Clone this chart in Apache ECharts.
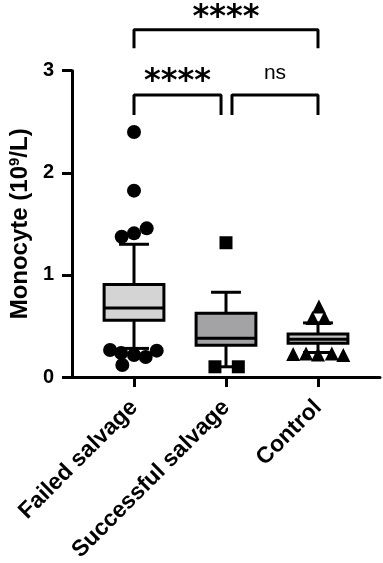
<!DOCTYPE html>
<html>
<head>
<meta charset="utf-8">
<script src="https://cdn.jsdelivr.net/npm/echarts@6/dist/echarts.min.js"></script>
<style>
  html, body { margin: 0; padding: 0; background: #fff; }
  #chart { width: 383px; height: 563px; }
</style>
</head>
<body>
<div id="chart"></div>
<script>
const categories = ['Failed salvage', 'Successful salvage', 'Control'];
// [group, lower whisker, Q1, median, Q3, upper whisker]
const boxStats = [
  [0, 0.28, 0.555, 0.675, 0.905, 1.30],
  [1, 0.10, 0.31, 0.38, 0.625, 0.83],
  [2, 0.24, 0.33, 0.37, 0.42, 0.53]
];
const boxFills = ['#d4d4d4', '#a3a3a6', '#c4c4c4'];
// points outside the whiskers: [group + jitter, value]
const failedPoints = [
  [0, 2.40], [0, 1.825], [-0.134, 1.374], [0, 1.407], [0.138, 1.456],
  [-0.26, 0.264], [-0.14, 0.235], [0, 0.215], [0.127, 0.196], [0.247, 0.258], [-0.127, 0.118]
];
const successPoints = [[1, 1.315], [0.88, 0.10], [1.134, 0.10]];
const controlPoints = [
  [2.01, 0.69], [1.94, 0.578], [2.07, 0.578],
  [1.73, 0.225], [1.87, 0.23], [2.0, 0.22], [2.15, 0.23], [2.275, 0.215]
];
const yTicks = [0, 1, 2, 3];
// significance brackets: [from, to, label, bar level, leg end, label level]
const comparisons = [
  [0, 2, '****', 3.40, 3.22, 3.52],
  [0, 0.946, '****', 2.762, 2.566, 2.89],
  [1.065, 2, 'ns', 2.762, 2.566, 2.98]
];

const BOX_WIDTH = 0.65;
const font = 'Liberation Sans, Arial, sans-serif';

function renderBox(params, api) {
  const x = api.value(0);
  const low = api.coord([x, api.value(1)]);
  const q1 = api.coord([x, api.value(2)]);
  const med = api.coord([x, api.value(3)]);
  const q3 = api.coord([x, api.value(4)]);
  const high = api.coord([x, api.value(5)]);
  const w = api.size([BOX_WIDTH, 0])[0];
  const cx = low[0];
  const lineStyle = { stroke: '#000', lineWidth: 3 };
  const seg = (x1, y1, x2, y2) => ({ type: 'line', shape: { x1, y1, x2, y2 }, style: lineStyle });
  return {
    type: 'group',
    children: [
      seg(cx, high[1], cx, q3[1]),
      seg(cx, q1[1], cx, low[1]),
      seg(cx - w / 4, high[1], cx + w / 4, high[1]),
      seg(cx - w / 4, low[1], cx + w / 4, low[1]),
      {
        type: 'rect',
        shape: { x: cx - w / 2, y: q3[1], width: w, height: q1[1] - q3[1] },
        style: { fill: boxFills[params.dataIndex], stroke: '#000', lineWidth: 3 }
      },
      seg(cx - w / 2, med[1], cx + w / 2, med[1])
    ]
  };
}

const bracketSeries = comparisons.map((c) => ({
  type: 'line',
  data: [[c[0], c[4]], [c[0], c[3]], [c[1], c[3]], [c[1], c[4]]],
  symbol: 'none',
  clip: false,
  silent: true,
  lineStyle: { color: '#000', width: 3 },
  z: 5
}));

const labelSeries = {
  type: 'scatter',
  symbolSize: 0,
  clip: false,
  silent: true,
  itemStyle: { opacity: 1 },
  data: comparisons.map((c) => ({
    value: [(c[0] + c[1]) / 2, c[5]],
    label: c[2] === 'ns'
      ? { formatter: c[2], color: '#000', fontSize: 21, fontWeight: 'normal', fontFamily: font }
      : { formatter: c[2], color: '#000', fontSize: 32, fontWeight: 'bold', fontFamily: 'DejaVu Sans' }
  })),
  label: { show: true, position: 'inside', color: '#000' }
};

const pointStyle = { color: '#000', opacity: 1 };
const chart = echarts.init(document.getElementById('chart'));
chart.setOption({
  animation: false,
  grid: { left: 72, right: 3, top: 70.7, bottom: 186, containLabel: false, outerBoundsMode: 'none' },
  xAxis: {
    type: 'value',
    min: -0.674,
    max: 2.674,
    splitLine: { show: false },
    axisLine: { onZero: false, lineStyle: { color: '#000', width: 3 } },
    axisTick: { customValues: [0, 1, 2], length: 10, lineStyle: { color: '#000', width: 3 } },
    axisLabel: {
      customValues: [0, 1, 2],
      formatter: (v) => categories[Math.round(v)],
      rotate: 45,
      margin: 27,
      color: '#000',
      fontSize: 23,
      fontWeight: 'bold',
      fontFamily: font
    }
  },
  yAxis: {
    type: 'value',
    min: yTicks[0],
    max: yTicks[yTicks.length - 1],
    interval: 1,
    splitLine: { show: false },
    axisLine: { show: true, onZero: false, lineStyle: { color: '#000', width: 3 } },
    axisTick: { show: true, length: 10, lineStyle: { color: '#000', width: 3 } },
    axisLabel: { margin: 18, color: '#000', fontSize: 20, fontWeight: 'bold', fontFamily: font },
    name: '{a|Monocyte (10}{s|9}{a|/L)}',
    nameLocation: 'middle',
    nameGap: 37,
    nameTextStyle: {
      rich: {
        a: { fontSize: 24, fontWeight: 'bold', fontFamily: font, color: '#000', lineHeight: 26 },
        s: { fontSize: 15, fontWeight: 'bold', fontFamily: font, color: '#000', verticalAlign: 'top', lineHeight: 15 }
      }
    }
  },
  series: [
    {
      type: 'custom',
      renderItem: renderBox,
      encode: { x: 0, y: [1, 2, 3, 4, 5] },
      data: boxStats,
      z: 2
    },
    { type: 'scatter', symbol: 'circle', symbolSize: 14, itemStyle: pointStyle, data: failedPoints, z: 3 },
    { type: 'scatter', symbol: 'rect', symbolSize: 13, itemStyle: pointStyle, data: successPoints, z: 3 },
    { type: 'scatter', symbol: 'triangle', symbolSize: 14, itemStyle: pointStyle, data: controlPoints, z: 3 },
    ...bracketSeries,
    labelSeries
  ]
});
</script>
</body>
</html>
